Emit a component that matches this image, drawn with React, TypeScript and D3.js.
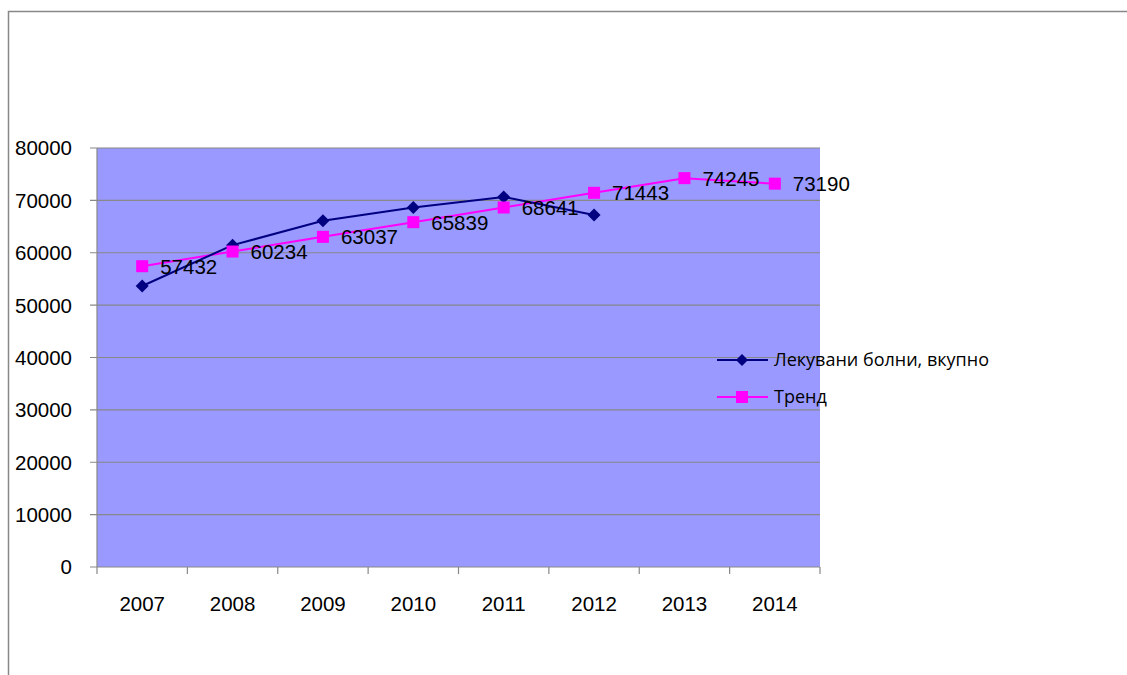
import React from "react";
import * as d3 from "d3";

const years = ["2007", "2008", "2009", "2010", "2011", "2012", "2013", "2014"];
const treatedYears = ["2007", "2008", "2009", "2010", "2011", "2012"];
const treatedValues = [53650, 61450, 66100, 68650, 70650, 67200];
const trendValues = [57432, 60234, 63037, 65839, 68641, 71443, 74245, 73190];
const yTicks = [0, 10000, 20000, 30000, 40000, 50000, 60000, 70000, 80000];
const seriesNames = ["Лекувани болни, вкупно", "Тренд"];

const W = 1127, H = 675;
const plot = { left: 97, top: 148, right: 820, bottom: 567 };

export default function App() {
  const x = d3.scaleBand().domain(years).range([plot.left, plot.right]);
  const cx = (d: string) => (x(d) as number) + x.bandwidth() / 2;
  const y = d3.scaleLinear().domain([0, 80000]).range([plot.bottom, plot.top]);
  const line = d3.line<[string, number]>().x((d) => cx(d[0])).y((d) => y(d[1]));
  const treated: [string, number][] = treatedYears.map((d, i) => [d, treatedValues[i]]);
  const trend: [string, number][] = years.map((d, i) => [d, trendValues[i]]);
  const boundaries = d3.range(years.length + 1).map((i) => plot.left + i * x.step());
  const diamond = (px: number, py: number, r = 6.5) =>
    `M${px},${py - r}L${px + r},${py}L${px},${py + r}L${px - r},${py}Z`;
  const font = "'Liberation Sans', Arial, sans-serif";
  const fs = 20.5;
  const legendFont = "'Open Sans', 'Noto Sans', sans-serif";
  return (
    <svg width={W} height={H} style={{ position: "absolute", left: 0, top: 0, background: "#fff" }}>
      <rect x={8.5} y={11.5} width={1200} height={800} fill="none" stroke="#888" strokeWidth={1.5} />
      <rect x={plot.left} y={plot.top} width={plot.right - plot.left} height={plot.bottom - plot.top} fill="#9999FF" />
      {yTicks.map((t) => (
        <g key={t}>
          <line x1={90} x2={plot.right} y1={y(t)} y2={y(t)} stroke="#888" strokeWidth={1.2} />
          <text x={72} y={y(t)} dy="0.36em" textAnchor="end" fontFamily={font} fontSize={fs} fill="#000">
            {t}
          </text>
        </g>
      ))}
      <line x1={plot.left} x2={plot.left} y1={plot.top} y2={plot.bottom} stroke="#888" strokeWidth={1.2} />
      {boundaries.map((b, i) => (
        <line key={i} x1={b} x2={b} y1={plot.bottom} y2={plot.bottom + 7} stroke="#888" strokeWidth={1.2} />
      ))}
      {years.map((d) => (
        <text key={d} x={cx(d)} y={604} dy="0.36em" textAnchor="middle" fontFamily={font} fontSize={fs} fill="#000">
          {d}
        </text>
      ))}
      <path d={line(trend) as string} fill="none" stroke="#FF00FF" strokeWidth={2} />
      <path d={line(treated) as string} fill="none" stroke="#000080" strokeWidth={2} />
      {treated.map((d) => (
        <path key={d[0]} d={diamond(cx(d[0]), y(d[1]))} fill="#000080" />
      ))}
      {trend.map((d) => (
        <g key={d[0]}>
          <rect x={cx(d[0]) - 6} y={y(d[1]) - 6} width={12} height={12} fill="#FF00FF" />
          <text x={cx(d[0]) + 18} y={y(d[1])} dy="0.36em" fontFamily={font} fontSize={fs} fill="#000">
            {d[1]}
          </text>
        </g>
      ))}
      <g>
        <line x1={717} x2={768} y1={360} y2={360} stroke="#000080" strokeWidth={2} />
        <path d={diamond(742, 360, 6)} fill="#000080" />
        <text x={774} y={360} dy="0.36em" fontFamily={legendFont} fontSize={18} fill="#000">
          {seriesNames[0]}
        </text>
        <line x1={717} x2={768} y1={397} y2={397} stroke="#FF00FF" strokeWidth={2} />
        <rect x={736} y={391} width={12} height={12} fill="#FF00FF" />
        <text x={774} y={397} dy="0.36em" fontFamily={legendFont} fontSize={18} fill="#000">
          {seriesNames[1]}
        </text>
      </g>
    </svg>
  );
}
